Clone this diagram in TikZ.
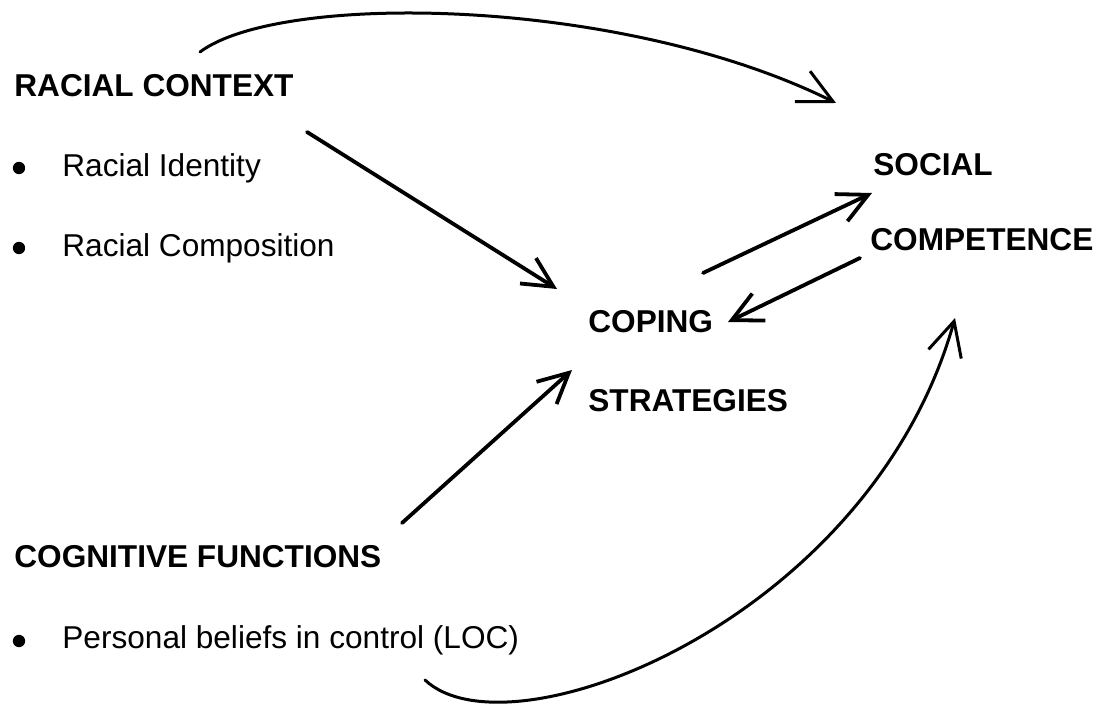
\documentclass[tikz,border=0pt]{standalone}
\usepackage{fontspec}
\setmainfont{Liberation Sans}
\usetikzlibrary{arrows.meta}
\begin{document}
\begin{tikzpicture}[x=0.5pt,y=-0.5pt,
  every node/.style={inner sep=0pt,anchor=base west,font=\fontsize{15.8}{19}\selectfont},
  head/.style={font=\fontsize{15.8}{19}\selectfont\bfseries},
  dot/.style={circle,fill,minimum size=6.2pt,anchor=center},
  link/.style={line width=1.9pt,line cap=round,-{Straight Barb[length=15pt,width=15pt]}},
  sweep/.style={line width=1.5pt,line cap=round,-{Straight Barb[length=17pt,width=17pt]}}]
  \useasboundingbox (0,0) rectangle (1107,710);

  % Racial context
  \node[head] (rc) at (14,97) {RACIAL CONTEXT};
  \node[dot] (b1) at (19,168) {};
  \node (ri) at (62,177) {Racial Identity};
  \node[dot] (b2) at (19,248) {};
  \node (rcomp) at (62,257) {Racial Composition};

  % Cognitive functions
  \node[head] (cf) at (14,567) {COGNITIVE FUNCTIONS};
  \node[dot] (b3) at (19,641) {};
  \node (pb) at (62,648) {Personal beliefs in control (LOC)};

  % Coping strategies
  \node[head] (cop) at (588,333) {COPING};
  \node[head] (str) at (588,412) {STRATEGIES};

  % Social competence
  \node[head] (soc) at (873,176) {SOCIAL};
  \node[head] (comp) at (870,251) {COMPETENCE};

  % Ends of the arrows
  \coordinate (t1) at (200,52);
  \coordinate (t2) at (836,103);
  \coordinate (d1) at (307,132);
  \coordinate (d2) at (557,289);
  \coordinate (u1) at (703,273);
  \coordinate (u2) at (872,193);
  \coordinate (v1) at (860,258);
  \coordinate (v2) at (728,322);
  \coordinate (w1) at (402,523);
  \coordinate (w2) at (572,370);
  \coordinate (s1) at (425,680);
  \coordinate (s2) at (955,318);

  % Arrows
  \draw[sweep] (t1) .. controls (280,-8) and (620,-4) .. (t2);
  \draw[link] (d1) -- (d2);
  \draw[link] (u1) -- (u2);
  \draw[link] (v1) -- (v2);
  \draw[link] (w1) -- (w2);
  \draw[sweep] (s1) .. controls (510,760) and (870,620) .. (s2);
\end{tikzpicture}
\end{document}
